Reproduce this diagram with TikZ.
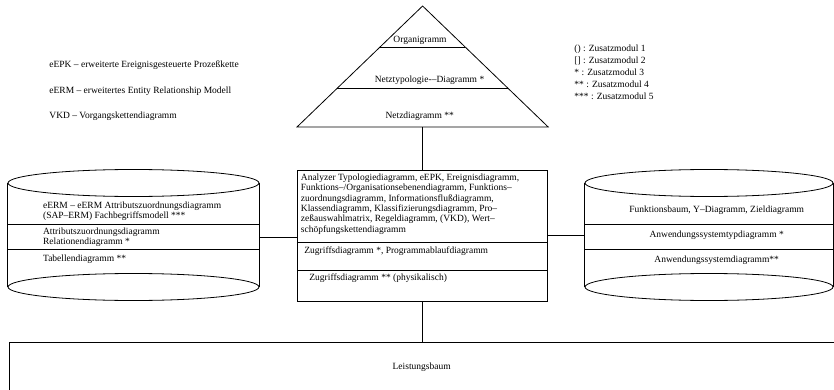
\documentclass[tikz,border=0pt]{standalone}
\usepackage{fontspec}
\setmainfont{Liberation Serif}
\usetikzlibrary{calc}
\begin{document}
\begin{tikzpicture}[x=1pt,y=-1pt,line width=0.8pt,
  lbl/.style={inner sep=0pt,font=\fontsize{9.5}{10.3}\selectfont},
  boxshape/.style={draw,inner sep=0pt,line width=0.8pt},
  conn/.style={draw,line width=0.8pt}]
\useasboundingbox (0,0) rectangle (834,390);

% ---------- pyramid ----------
\coordinate (apex) at (422.6,6);
\coordinate (pbl) at (297,127);
\coordinate (pbr) at (548.2,127);
\draw (apex) -- (pbl) -- (pbr) -- cycle;
\draw ($(apex)!0.339!(pbl)$) -- ($(apex)!0.339!(pbr)$);
\draw ($(apex)!0.678!(pbl)$) -- ($(apex)!0.678!(pbr)$);
\coordinate (pbase) at (422.6,127);
\node[lbl] (org) at (420,40.7) {Organigramm};
\node[lbl] (netzt) at (429.5,80.7) {Netztypologie{-}–Diagramm *};
\node[lbl] (netzd) at (419.7,116.7) {Netzdiagramm **};

% ---------- legends ----------
\node[lbl,anchor=west] (leg1) at (49,65) {eEPK – erweiterte Ereignisgesteuerte Prozeßkette};
\node[lbl,anchor=west] (leg2) at (49,91.7) {eERM – erweitertes Entity Relationship Modell};
\node[lbl,anchor=west] (leg3) at (49,116.7) {VKD – Vorgangskettendiagramm};

\node[lbl,anchor=west] (z1) at (574,48.8) {() : Zusatzmodul 1};
\node[lbl,anchor=west] (z2) at (574,60.5) {[] : Zusatzmodul 2};
\node[lbl,anchor=west] (z3) at (574,72.3) {* : Zusatzmodul 3};
\node[lbl,anchor=west] (z4) at (574,84.0) {** : Zusatzmodul 4};
\node[lbl,anchor=west] (z5) at (574,95.8) {*** : Zusatzmodul 5};

% ---------- centre box ----------
\node[boxshape,minimum width=250pt,minimum height=131.7pt] (cbox) at (422.2,235.85) {};
\draw (cbox.west |- 0,242) -- (cbox.east |- 0,242);
\draw (cbox.west |- 0,270) -- (cbox.east |- 0,270);
\node[lbl,anchor=west,align=left] (ctext) at (300.5,204) {Analyzer Typologiediagramm, eEPK, Ereignisdiagramm,\\
Funktions–/Organisationsebenendiagramm, Funktions–\\
zuordnungsdiagramm, Informationsflußdiagramm,\\
Klassendiagramm, Klassifizierungsdiagramm, Pro–\\
zeßauswahlmatrix, Regeldiagramm, (VKD), Wert–\\
schöpfungskettendiagramm};
\node[lbl,anchor=west] (zug1) at (304,250.7) {Zugriffsdiagramm *, Programmablaufdiagramm};
\node[lbl,anchor=west] (zug2) at (309,278) {Zugriffsdiagramm ** (physikalisch)};

% ---------- left cylinder ----------
\node[inner sep=0pt,minimum width=251pt,minimum height=104pt] (lcyl) at (133.5,235) {};
\draw (133.5,183) ellipse [x radius=125.5pt,y radius=13.5pt];
\draw (133.5,287) ellipse [x radius=125.5pt,y radius=13.5pt];
\draw (lcyl.north west) -- (lcyl.south west);
\draw (lcyl.north east) -- (lcyl.south east);
\draw (lcyl.west |- 0,224) -- (lcyl.east |- 0,224);
\draw (lcyl.west |- 0,249) -- (lcyl.east |- 0,249);
\node[lbl,anchor=west,align=left] (l1) at (42.7,211.2) {eERM – eERM Attributszuordnungsdiagramm\\(SAP–ERM) Fachbegriffsmodell ***};
\node[lbl,anchor=west,align=left] (l2) at (42.7,237) {Attributszuordnungsdiagramm\\Relationendiagramm *};
\node[lbl,anchor=west] (l3) at (42.7,259) {Tabellendiagramm **};

% ---------- right cylinder ----------
\node[inner sep=0pt,minimum width=248pt,minimum height=104pt] (rcyl) at (709,235) {};
\draw (709,183) ellipse [x radius=124pt,y radius=13.5pt];
\draw (709,287) ellipse [x radius=124pt,y radius=13.5pt];
\draw (rcyl.north west) -- (rcyl.south west);
\draw (rcyl.north east) -- (rcyl.south east);
\draw (rcyl.west |- 0,224) -- (rcyl.east |- 0,224);
\draw (rcyl.west |- 0,249) -- (rcyl.east |- 0,249);
\node[lbl] (r1) at (716.7,210.7) {Funktionsbaum, Y–Diagramm, Zieldiagramm};
\node[lbl] (r2) at (716.7,235) {Anwendungssystemtypdiagramm *};
\node[lbl] (r3) at (716.7,260) {Anwendungssystemdiagramm**};

% ---------- bottom box ----------
\node[boxshape,anchor=north west,minimum width=840pt,minimum height=60pt] (lbox) at (9,342.3) {};
\node[lbl] (ltext) at (421.7,367) {Leistungsbaum};

% ---------- connectors ----------
\draw[conn] (pbase) -- (pbase |- cbox.north);
\draw[conn] (lcyl.east |- 0,237.7) -- (cbox.west |- 0,237.7);
\draw[conn] (cbox.east |- 0,235) -- (rcyl.west |- 0,235);
\draw[conn] (cbox.south) -- (cbox.south |- lbox.north);
\end{tikzpicture}
\end{document}
